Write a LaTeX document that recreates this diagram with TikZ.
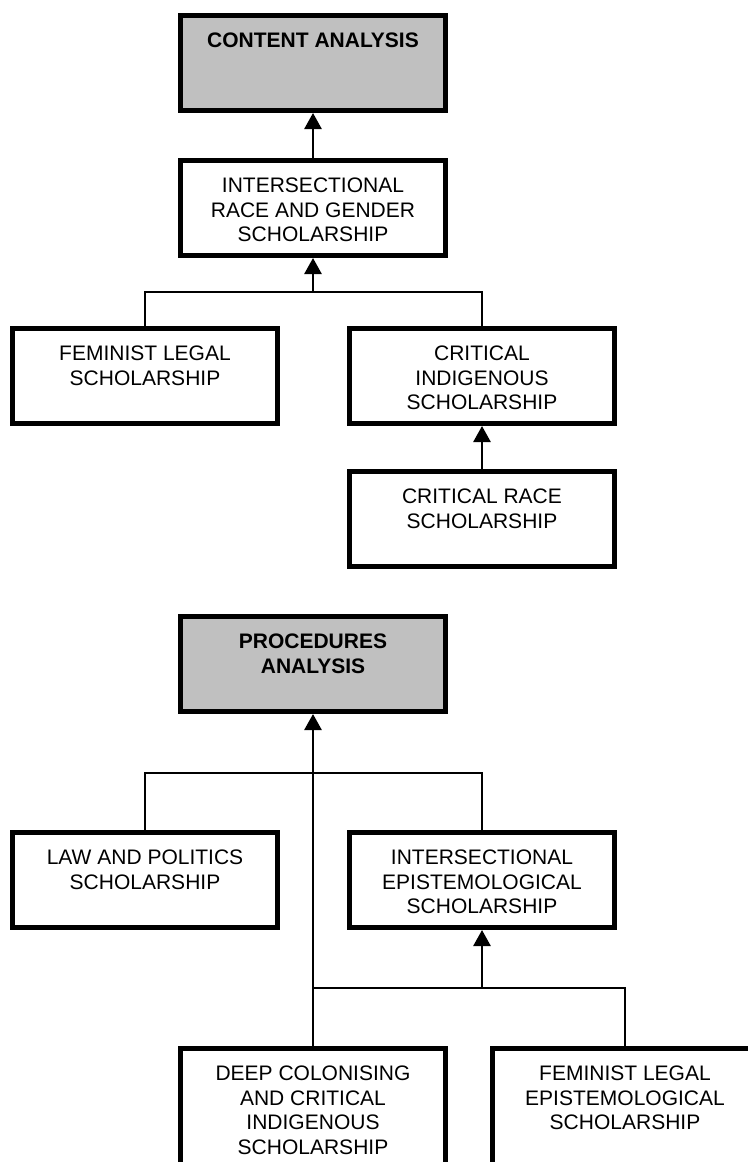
\documentclass[tikz,border=0pt]{standalone}
\usepackage{fontspec}
\setmainfont{Liberation Sans}
\usetikzlibrary{arrows.meta}
\definecolor{boxgray}{HTML}{C0C0C0}
\tikzset{
  box/.style={draw=black, line width=5pt, fill=white, rectangle, inner sep=0pt,
    minimum width=265pt, minimum height=95pt},
  tallbox/.style={box, minimum height=125pt},
  graybox/.style={box, fill=boxgray},
  txt/.style={anchor=north, align=center, inner sep=0pt, yshift=-20pt,
    font=\fontsize{21}{24.5}\selectfont},
  btxt/.style={txt, font=\fontsize{21}{24.5}\selectfont\bfseries},
  link/.style={draw=black, line width=1.7pt},
  up/.style={draw=black, line width=2.6pt, -{Triangle[width=17pt,length=16pt]}}
}
\begin{document}
\begin{tikzpicture}[x=1pt,y=-1pt]
\useasboundingbox (0,0) rectangle (747,1162);
% top group
\node[graybox] (ca) at (313,63) {};
\node[btxt] (cat) at (ca.north) {CONTENT ANALYSIS};
\node[box] (irg) at (313,208) {};
\node[txt] (irgt) at (irg.north) {INTERSECTIONAL\\RACE AND GENDER\\SCHOLARSHIP};
\node[box] (fl) at (145,376) {};
\node[txt] (flt) at (fl.north) {FEMINIST LEGAL\\SCHOLARSHIP};
\node[box] (ci) at (482,376) {};
\node[txt] (cit) at (ci.north) {CRITICAL\\INDIGENOUS\\SCHOLARSHIP};
\node[box] (cr) at (482,519) {};
\node[txt] (crt) at (cr.north) {CRITICAL RACE\\SCHOLARSHIP};
\coordinate (j1) at (313,292);
\draw[link] (fl.north) -- (fl.north |- j1) -- (ci.north |- j1) -- (ci.north);
\draw[up] (j1) -- (irg.south);
\draw[up] (irg.north) -- (ca.south);
\draw[up] (cr.north) -- (ci.south);
% bottom group
\node[graybox] (pa) at (313,664) {};
\node[btxt] (pat) at (pa.north) {PROCEDURES\\ANALYSIS};
\node[box] (lp) at (145,880) {};
\node[txt] (lpt) at (lp.north) {LAW AND POLITICS\\SCHOLARSHIP};
\node[box] (ie) at (482,880) {};
\node[txt] (iet) at (ie.north) {INTERSECTIONAL\\EPISTEMOLOGICAL\\SCHOLARSHIP};
\node[tallbox] (dc) at (313,1111) {};
\node[txt] (dct) at (dc.north) {DEEP COLONISING\\AND CRITICAL\\INDIGENOUS\\SCHOLARSHIP};
\node[tallbox] (fle) at (625,1111) {};
\node[txt] (flet) at (fle.north) {FEMINIST LEGAL\\EPISTEMOLOGICAL\\SCHOLARSHIP};
\coordinate (j2) at (313,773);
\coordinate (j3) at (482,988);
\draw[link] (lp.north) -- (lp.north |- j2) -- (ie.north |- j2) -- (ie.north);
\draw[link] (dc.north |- j3) -- (fle.north |- j3) -- (fle.north);
\draw[up] (dc.north) -- (pa.south);
\draw[up] (j3) -- (ie.south);
\end{tikzpicture}
\end{document}
